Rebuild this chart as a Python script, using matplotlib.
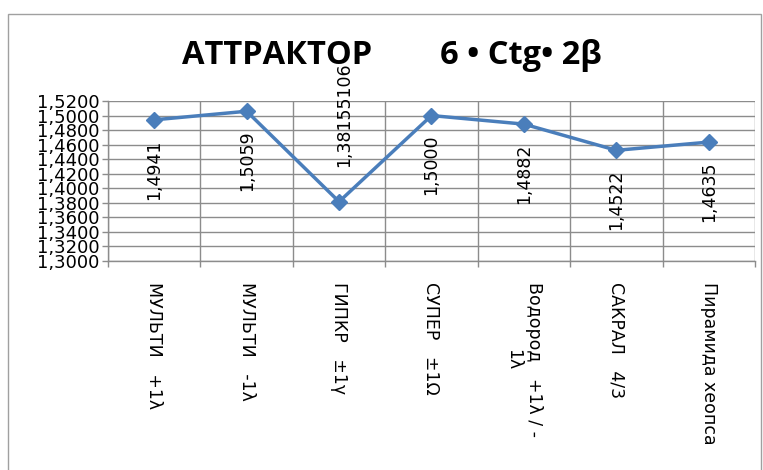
import matplotlib.pyplot as plt
from matplotlib.patches import Rectangle
import numpy as np

categories = ['МУЛЬТИ   +1λ', 'МУЛЬТИ   -1λ', 'ГИПКР   ±1γ', 'СУПЕР   ±1Ω',
              'Водород   +1λ / -\n1λ', 'САКРАЛ   4/3', 'Пирамида хеопса']
values = [1.4941, 1.5059, 1.38155106, 1.5000, 1.4882, 1.4522, 1.4635]
decimals = [4, 4, 8, 4, 4, 4, 4]
y_ticks = [1.30, 1.32, 1.34, 1.36, 1.38, 1.40, 1.42, 1.44, 1.46, 1.48, 1.50, 1.52]

line_color = '#4A7EBB'
grid_color = '#8C8C8C'

fig = plt.figure(figsize=(7.63, 4.70), dpi=100)
ax = fig.add_axes([108 / 763, 209 / 470, 647 / 763, 160 / 470])

x = np.arange(len(values))
ax.plot(x, values, color=line_color, lw=2.5, marker='D', ms=8.5,
        markerfacecolor=line_color, markeredgecolor=line_color, zorder=3)

# value labels, rotated; the dip gets its label above the point
for xi, v, d in zip(x, values, decimals):
    txt = f'{v:.{d}f}'.replace('.', ',')
    if v < 1.40:
        ax.annotate(txt, (xi, v), xytext=(3.5, 25), textcoords='offset points',
                    rotation=90, ha='center', va='bottom', fontsize=12.5,
                    annotation_clip=False)
    else:
        ax.annotate(txt, (xi, v), xytext=(0, -14), textcoords='offset points',
                    rotation=90, ha='center', va='top', fontsize=12.5)

ax.set_xlim(-0.5, len(values) - 0.5)
ax.set_ylim(1.30, 1.52)
ax.set_yticks(y_ticks)
ax.set_yticklabels([f'{t:.4f}'.replace('.', ',') for t in y_ticks], fontsize=13)
ax.set_xticks(x)
ax.set_xticklabels(categories, rotation=-90, va='top', ha='center',
                   multialignment='center', fontsize=12.5, linespacing=1.2)
ax.set_xticks(np.arange(len(values) + 1) - 0.5, minor=True)

ax.tick_params(axis='x', which='major', length=0, pad=15)
ax.tick_params(axis='x', which='minor', length=4, color=grid_color, width=1)
ax.tick_params(axis='y', length=4, color=grid_color, width=1, pad=2)

ax.grid(axis='y', color=grid_color, lw=1)
ax.grid(axis='x', which='minor', color=grid_color, lw=1)
ax.set_axisbelow(True)
for side in ['top', 'right']:
    ax.spines[side].set_visible(False)
for side in ['left', 'bottom']:
    ax.spines[side].set_color(grid_color)
    ax.spines[side].set_linewidth(1)

fig.text(392 / 763, 1 - 55 / 470, 'АТТРАКТОР        6 • Ctg• 2β',
         family=['Open Sans', 'DejaVu Sans'], fontweight='bold', fontsize=23.5,
         ha='center', va='center')

# chart frame
fig.patches.append(Rectangle((8 / 763, -0.05), 753 / 763, 1.05 - 14 / 470,
                             transform=fig.transFigure, fill=False,
                             edgecolor='#A0A0A0', lw=1))

fig.savefig('out.png', dpi=100)
